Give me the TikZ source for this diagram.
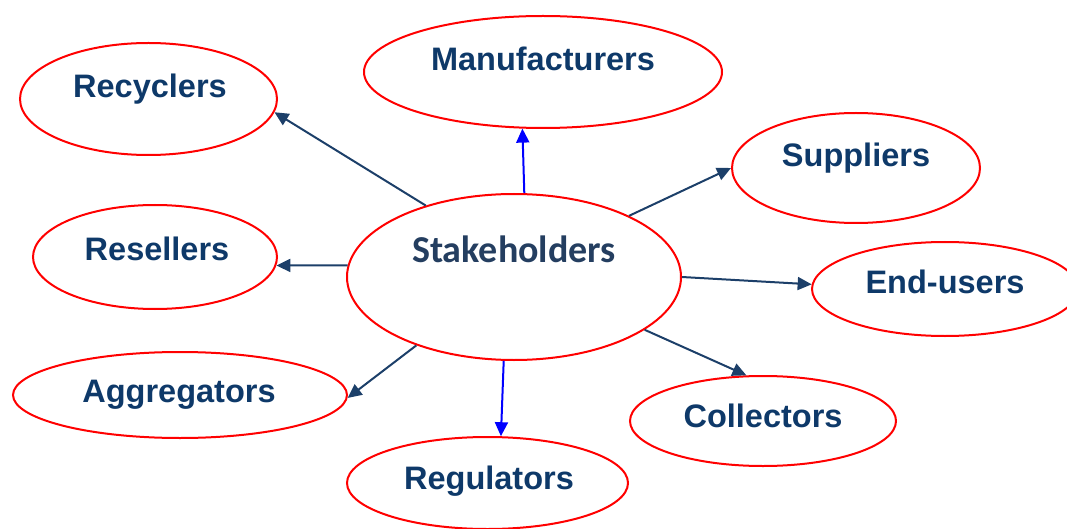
\documentclass[tikz,border=0pt]{standalone}
\usepackage{fontspec}
\setmainfont{Liberation Sans}
\newfontfamily\carlitofont{Carlito}
\usetikzlibrary{shapes.geometric,arrows.meta}
\definecolor{navy}{RGB}{14,57,105}
\definecolor{arrnavy}{RGB}{28,63,105}
\definecolor{stk}{RGB}{36,62,96}
\begin{document}
\begin{tikzpicture}[x=1pt,y=-1pt,
  ell/.style={draw=red, line width=2pt, ellipse, inner sep=0pt, fill=white},
  lbl/.style={anchor=base, text=navy, inner sep=0pt, font=\fontsize{32.5}{36}\selectfont\bfseries},
  stklbl/.style={anchor=base, text=stk, inner sep=0pt, font=\carlitofont\fontsize{38}{42}\selectfont\bfseries},
  conn/.style={draw=arrnavy, line width=2pt, -{Triangle[length=14pt,width=13pt]}},
  bconn/.style={conn, draw=blue}]
\useasboundingbox (0,0) rectangle (1067,529);
% ellipses
\node[ell, minimum width=334pt, minimum height=166pt] (st) at (514,277) {};
\node[ell, minimum width=358pt, minimum height=112pt] (man) at (543,72) {};
\node[ell, minimum width=257pt, minimum height=112pt] (rec) at (148.5,99) {};
\node[ell, minimum width=248pt, minimum height=110pt] (sup) at (856,168) {};
\node[ell, minimum width=244pt, minimum height=104pt] (res) at (155,257) {};
\node[ell, minimum width=266pt, minimum height=94pt] (end) at (945,289) {};
\node[ell, minimum width=334pt, minimum height=86pt] (agg) at (180,395) {};
\node[ell, minimum width=266pt, minimum height=90pt] (col) at (763,421) {};
\node[ell, minimum width=281pt, minimum height=92pt] (reg) at (487.5,483) {};
% labels
\node[stklbl] (tst) at (514,262.7) {Stakeholders};
\node[lbl] (tman) at (543,71) {Manufacturers};
\node[lbl] (trec) at (150,98) {Recyclers};
\node[lbl] (tsup) at (856,167) {Suppliers};
\node[lbl] (tres) at (157,260) {Resellers};
\node[lbl] (tend) at (945,293) {End-users};
\node[lbl] (tagg) at (179,402.7) {Aggregators};
\node[lbl] (tcol) at (763,427) {Collectors};
\node[lbl] (treg) at (489,489) {Regulators};
% connectors
\draw[conn] (st.141.5) -- (rec.-6.7);
\draw[bconn] (st.83.1) -- (man.250.3);
\draw[conn] (st.28.4) -- (sup.180.5);
\draw[conn] (st.-0.7) -- (end.178.7);
\draw[conn] (st.-22) -- (col.110);
\draw[bconn] (st.263.1) -- (reg.74);
\draw[conn] (st.215) -- (agg.-1);
\draw[conn] (st.176.9) -- (res.-4.7);
\end{tikzpicture}
\end{document}
